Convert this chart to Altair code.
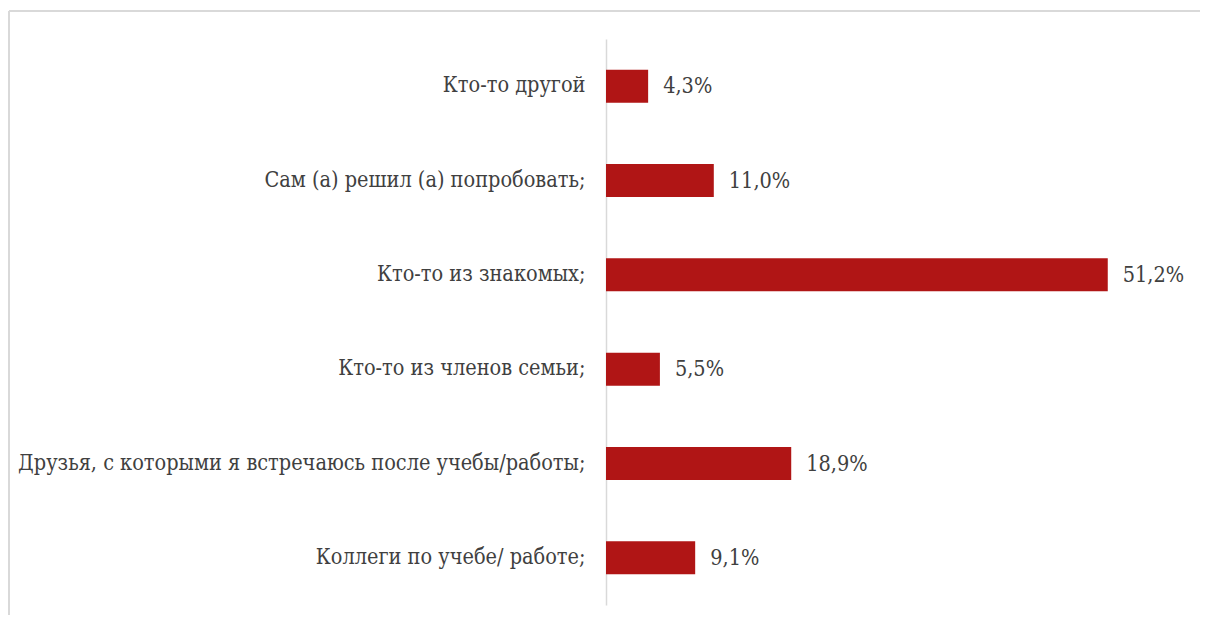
import altair as alt
import pandas as pd

categories = [
    "Кто-то другой",
    "Сам (а) решил (а) попробовать;",
    "Кто-то из знакомых;",
    "Кто-то из членов семьи;",
    "Друзья, с которыми я встречаюсь после учебы/работы;",
    "Коллеги по учебе/ работе;",
]
values = [4.3, 11.0, 51.2, 5.5, 18.9, 9.1]
value_labels = ["4,3%", "11,0%", "51,2%", "5,5%", "18,9%", "9,1%"]

df = pd.DataFrame({"cat": categories, "val": values, "lbl": value_labels})

FONT = "DejaVu Serif Condensed"
BAR_COLOR = "#B01515"
TEXT_COLOR = "#404040"

y_enc = alt.Y(
    "cat:N",
    sort=categories,
    scale=alt.Scale(paddingInner=0.65, paddingOuter=0.325),
    axis=alt.Axis(
        title=None,
        ticks=False,
        domain=True,
        domainColor="#d9d9d9",
        domainWidth=1.5,
        labelPadding=21,
        labelFont=FONT,
        labelFontSize=21.5,
        labelColor=TEXT_COLOR,
        labelLimit=700,
        grid=False,
    ),
)
x_enc = alt.X("val:Q", scale=alt.Scale(domain=[0, 60]), axis=None)

bars = alt.Chart(df).mark_bar(color=BAR_COLOR).encode(y=y_enc, x=x_enc)
texts = alt.Chart(df).mark_text(
    align="left", baseline="middle", dx=15, dy=1, font=FONT, fontSize=21.5, color=TEXT_COLOR
).encode(y=alt.Y("cat:N", sort=categories), x="val:Q", text="lbl:N")

top_border = alt.Chart(df).mark_rule(color="#d9d9d9", strokeWidth=2).encode(
    x=alt.value(-597), x2=alt.value(594), y=alt.value(-28)
)
left_border = alt.Chart(df).mark_rule(color="#d9d9d9", strokeWidth=2).encode(
    x=alt.value(-597), y=alt.value(-28), y2=alt.value(576)
)

chart = (
    alt.layer(top_border, left_border, bars, texts)
    .properties(
        width=588,
        height=566,
        padding={"left": 598, "top": 31, "right": 6, "bottom": 10},
        autosize="none",
    )
    .configure_view(stroke=None)
)

chart.save("out.html", embed_options={"renderer": "svg", "actions": False})
